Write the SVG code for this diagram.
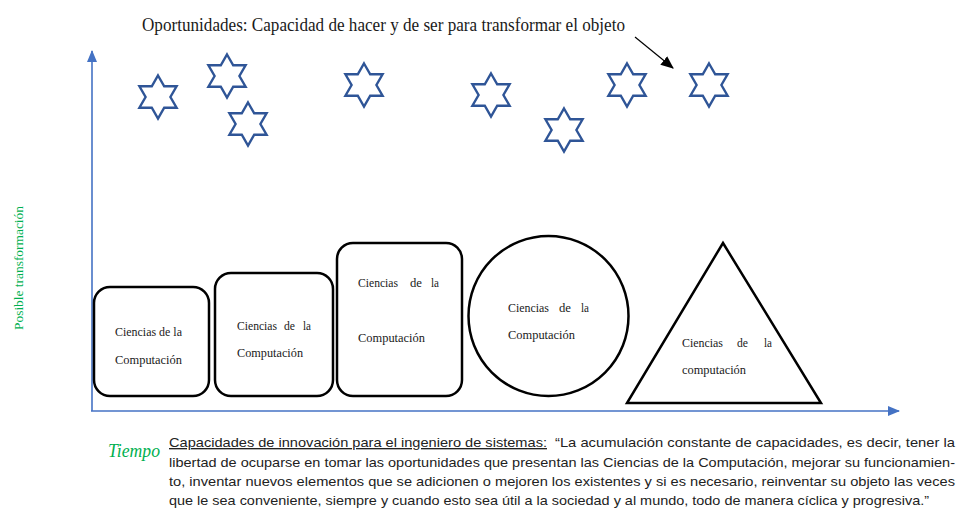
<svg xmlns="http://www.w3.org/2000/svg" width="957" height="509" viewBox="0 0 957 509">
<style>
.hand{font-family:"Liberation Serif","DejaVu Serif",serif;fill:#1a1a1a;font-size:13px}
.node{fill:#fff;stroke:#000;stroke-width:2.5}
.star{fill:#fff;stroke:#2F5597;stroke-width:2.4;stroke-linejoin:miter}
.axis{stroke:#4472C4;stroke-width:1.6;fill:none}
.body{font-family:"Liberation Sans","Arial",sans-serif;font-size:13.5px;fill:#222}
.green{fill:#00B050}
</style>
<defs>
<path id="hex" d="M0,-21.5 L6.21,-10.75 L18.62,-10.75 L12.41,0 L18.62,10.75 L6.21,10.75 L0,21.5 L-6.21,10.75 L-18.62,10.75 L-12.41,0 L-18.62,-10.75 L-6.21,-10.75 Z"/>
<marker id="blueHead" viewBox="0 0 12 10" refX="11" refY="5" markerWidth="12" markerHeight="10" markerUnits="userSpaceOnUse" orient="auto">
<path d="M0,0 L12,5 L0,10 Z" fill="#4472C4"/>
</marker>
<marker id="blackHead" viewBox="0 0 12 10" refX="11" refY="5" markerWidth="13" markerHeight="11" markerUnits="userSpaceOnUse" orient="auto">
<path d="M0,0 L12,5 L0,10 Z" fill="#000"/>
</marker>
</defs>
<rect width="957" height="509" fill="#fff"/>

<text id="title" class="hand" x="142" y="31" style="font-size:19.5px" textLength="483" lengthAdjust="spacingAndGlyphs">Oportunidades: Capacidad de hacer y de ser para transformar el objeto</text>

<g id="stars">
<use href="#hex" class="star" x="158" y="97"/>
<use href="#hex" class="star" x="227" y="76"/>
<use href="#hex" class="star" x="248" y="124"/>
<use href="#hex" class="star" x="364" y="85"/>
<use href="#hex" class="star" x="491" y="95"/>
<use href="#hex" class="star" x="564" y="130"/>
<use href="#hex" class="star" x="627" y="85"/>
<use href="#hex" class="star" x="709" y="85"/>
</g>

<g id="connectors">
<line class="axis" x1="92" y1="411" x2="92" y2="51" marker-end="url(#blueHead)"/>
<line class="axis" x1="91" y1="411" x2="899" y2="411" marker-end="url(#blueHead)"/>
<line x1="635" y1="37" x2="673" y2="68" stroke="#000" stroke-width="1.2" marker-end="url(#blackHead)"/>
</g>

<g id="node1">
<rect class="node" x="94" y="287" width="115" height="109" rx="16"/>
<text class="hand" x="115" y="336" textLength="67" lengthAdjust="spacingAndGlyphs">Ciencias de la</text>
<text class="hand" x="115" y="364" textLength="67" lengthAdjust="spacingAndGlyphs">Computación</text>
</g>
<g id="node2">
<rect class="node" x="215" y="273" width="118" height="123" rx="16"/>
<text class="hand" x="237" y="330" textLength="40" lengthAdjust="spacingAndGlyphs">Ciencias</text>
<text class="hand" x="284" y="330" textLength="11" lengthAdjust="spacingAndGlyphs">de</text>
<text class="hand" x="303" y="330" textLength="8" lengthAdjust="spacingAndGlyphs">la</text>
<text class="hand" x="237" y="357" textLength="66" lengthAdjust="spacingAndGlyphs">Computación</text>
</g>
<g id="node3">
<rect class="node" x="337" y="243" width="125" height="153" rx="16"/>
<text class="hand" x="358" y="287" textLength="40" lengthAdjust="spacingAndGlyphs">Ciencias</text>
<text class="hand" x="410" y="287" textLength="12" lengthAdjust="spacingAndGlyphs">de</text>
<text class="hand" x="431" y="287" textLength="8" lengthAdjust="spacingAndGlyphs">la</text>
<text class="hand" x="358" y="342" textLength="67" lengthAdjust="spacingAndGlyphs">Computación</text>
</g>
<g id="node4">
<circle class="node" cx="548.5" cy="316" r="80"/>
<text class="hand" x="508" y="312" textLength="41" lengthAdjust="spacingAndGlyphs">Ciencias</text>
<text class="hand" x="559" y="312" textLength="12" lengthAdjust="spacingAndGlyphs">de</text>
<text class="hand" x="581" y="312" textLength="8" lengthAdjust="spacingAndGlyphs">la</text>
<text class="hand" x="508" y="339" textLength="67" lengthAdjust="spacingAndGlyphs">Computación</text>
</g>
<g id="node5">
<polygon class="node" points="723,243 821,403 627,403"/>
<text class="hand" x="682" y="347" textLength="41" lengthAdjust="spacingAndGlyphs">Ciencias</text>
<text class="hand" x="737" y="347" textLength="11" lengthAdjust="spacingAndGlyphs">de</text>
<text class="hand" x="764" y="347" textLength="8" lengthAdjust="spacingAndGlyphs">la</text>
<text class="hand" x="682" y="374" textLength="64" lengthAdjust="spacingAndGlyphs">computación</text>
</g>

<text id="ylabel" class="hand green" transform="translate(23,268) rotate(-90)" text-anchor="middle" textLength="124" lengthAdjust="spacingAndGlyphs">Posible transformación</text>
<text id="xlabel" class="hand green" x="108" y="457" style="font-size:18px" font-style="italic" textLength="52" lengthAdjust="spacingAndGlyphs">Tiempo</text>

<g id="caption" class="body">
<text x="169" y="447" textLength="378" lengthAdjust="spacingAndGlyphs" text-decoration="underline">Capacidades de innovación para el ingeniero de sistemas:</text>
<text x="555" y="447" textLength="400" lengthAdjust="spacingAndGlyphs">“La acumulación constante de capacidades, es decir, tener la</text>
<text x="169" y="467" textLength="786" lengthAdjust="spacingAndGlyphs">libertad de ocuparse en tomar las oportunidades que presentan las Ciencias de la Computación, mejorar su funcionamien-</text>
<text x="169" y="486" textLength="786" lengthAdjust="spacingAndGlyphs">to, inventar nuevos elementos que se adicionen o mejoren los existentes y si es necesario, reinventar su objeto las veces</text>
<text x="169" y="505" textLength="760" lengthAdjust="spacingAndGlyphs">que le sea conveniente, siempre y cuando esto sea útil a la sociedad y al mundo, todo de manera cíclica y progresiva.”</text>
</g>
</svg>
